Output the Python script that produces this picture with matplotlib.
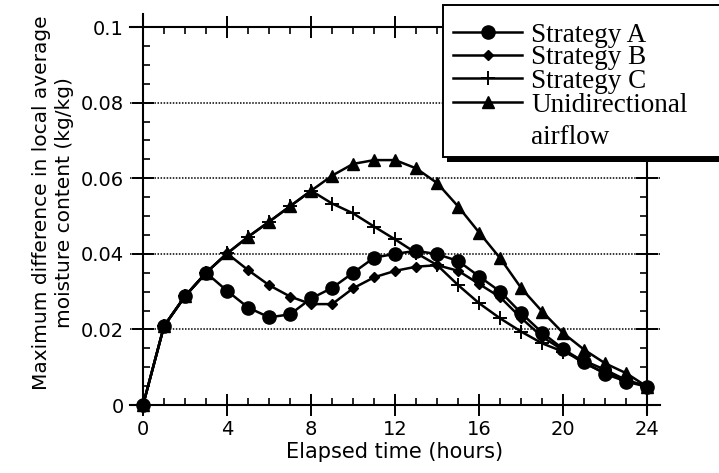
import numpy as np
import matplotlib.pyplot as plt
from matplotlib.lines import Line2D
from matplotlib.patches import Rectangle
from matplotlib.ticker import MultipleLocator


hours = np.arange(0, 25)

#strategy A (circles)
strat_a = [0.0, 0.0209, 0.0288, 0.035, 0.0302, 0.0258, 0.0232, 0.024, 0.0282,
           0.031, 0.035, 0.039, 0.040, 0.0408, 0.0399, 0.0381, 0.034, 0.030,
           0.0243, 0.0191, 0.0148, 0.0113, 0.0082, 0.0062, 0.0048]

#strategy B (diamonds)
strat_b = [0.0, 0.0209, 0.0288, 0.035, 0.0401, 0.0357, 0.0317, 0.0287, 0.0267,
           0.0267, 0.0309, 0.0338, 0.0355, 0.0366, 0.037, 0.0355, 0.032, 0.0285,
           0.023, 0.018, 0.0145, 0.011, 0.0085, 0.0065, 0.005]

#strategy C (plus)
strat_c = [0.0, 0.0209, 0.0288, 0.035, 0.0401, 0.0445, 0.0485, 0.0526, 0.0567,
           0.0533, 0.0507, 0.0472, 0.0438, 0.0402, 0.037, 0.0317, 0.0269, 0.0229,
           0.0194, 0.0163, 0.0141, 0.0117, 0.0093, 0.0066, 0.0048]

#unidirectional airflow (triangles)
unidir = [0.0, 0.0209, 0.0288, 0.035, 0.0401, 0.0445, 0.0485, 0.0526, 0.0567,
          0.0607, 0.0638, 0.0648, 0.0648, 0.0626, 0.0587, 0.0525, 0.0456, 0.0388,
          0.0309, 0.0247, 0.019, 0.0146, 0.011, 0.0084, 0.0048]

x_ticks = [0, 4, 8, 12, 16, 20, 24]
y_ticks = [0, 0.02, 0.04, 0.06, 0.08, 0.1]
y_tick_labels = ["0", "0.02", "0.04", "0.06", "0.08", "0.1"]
legend_labels = ["Strategy A", "Strategy B", "Strategy C", "Unidirectional", "airflow"]


W, H = 719, 473
fig = plt.figure(figsize=(W/100, H/100), dpi=100)
ax = fig.add_axes([130/W, (H-412.6)/H, 530/W, (412.6-13.8)/H])

lw = 1.8
styles = [dict(marker='o', ms=9.5),
          dict(marker='D', ms=5.5),
          dict(marker='+', ms=10, mew=1.4),
          dict(marker='^', ms=9)]

ax.plot(hours, unidir, color='black', lw=lw, zorder=3, **styles[3])
ax.plot(hours, strat_c, color='black', lw=lw, zorder=4, **styles[2])
ax.plot(hours, strat_b, color='black', lw=lw, zorder=5, **styles[1])
ax.plot(hours, strat_a, color='black', lw=lw, zorder=6, clip_on=False, **styles[0])

ax.set_xlim(-0.62, 24.6)
ax.set_ylim(-0.002, 0.1035)

#spines sit on the data limits, box lines run a little past them
ax.spines['left'].set_position(('data', 0))
ax.spines['right'].set_position(('data', 24))
ax.spines['bottom'].set_position(('data', 0))
ax.spines['top'].set_position(('data', 0.1))
for s in ax.spines.values():
    s.set_linewidth(1.5)

ax.set_xticks(x_ticks)
ax.set_yticks(y_ticks)
ax.set_yticklabels(y_tick_labels)
ax.xaxis.set_minor_locator(MultipleLocator(1))
ax.yaxis.set_minor_locator(MultipleLocator(0.005))
ax.tick_params(which='major', direction='inout', length=16, width=1.4,
               top=True, right=True, labelsize=14)
ax.tick_params(axis='y', which='major', pad=6)
ax.tick_params(axis='x', which='major', pad=3)
ax.tick_params(which='minor', direction='in', length=5, width=1.2,
               top=True, right=True)

for yv in y_ticks[1:-1]:
    ax.axhline(yv, color='black', lw=1.1, linestyle=(0, (1, 1)), zorder=1)

ax.set_xlabel("Elapsed time (hours)", fontsize=15, labelpad=2)
fig.text(53/W, 1 - 203/H,
         "Maximum difference in local average\nmoisture content (kg/kg)",
         rotation=90, ha='center', va='center', fontsize=14.5,
         multialignment='center', linespacing=1.2)

#legend box with a heavy drop shadow, drawn in figure pixels
box_l, box_t, box_b = 443, 5, 157
fig.patches.append(Rectangle((box_l + 4, H - box_b - 5), 320, box_b - box_t,
                             transform=None, facecolor='black',
                             edgecolor='none', zorder=20))
fig.patches.append(Rectangle((box_l, H - box_b), 320, box_b - box_t,
                             transform=None, facecolor='white',
                             edgecolor='black', lw=1.4, zorder=21))
row_y = [32, 55, 78, 102, 134]
for i, lab in enumerate(legend_labels):
    y = row_y[i]
    if i < 4:
        fig.add_artist(Line2D([453, 522], [H - y, H - y], transform=None,
                              color='black', lw=lw, zorder=22))
        fig.add_artist(Line2D([487.5], [H - y], transform=None, color='black',
                              zorder=23, **styles[i]))
    fig.text(531/W, 1 - y/H, lab, ha='left', va='center_baseline',
             family='Liberation Serif', fontsize=19.5, zorder=24)

fig.savefig("out.png", dpi=100)
